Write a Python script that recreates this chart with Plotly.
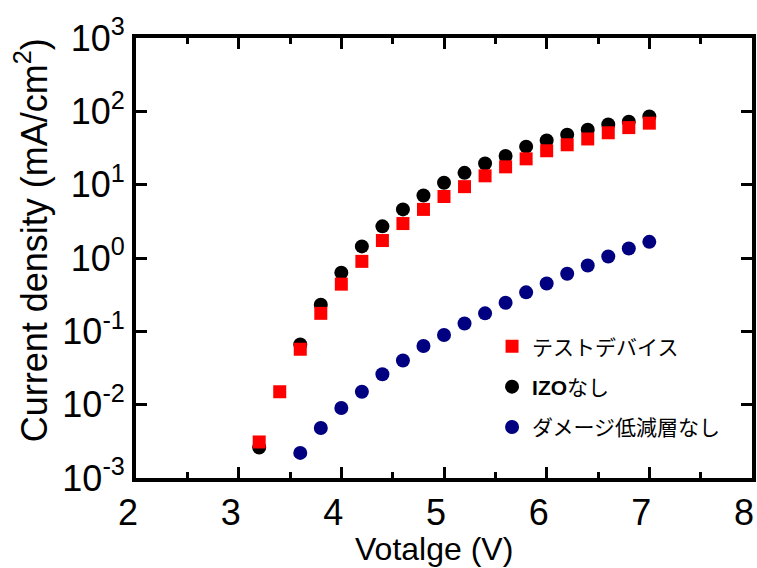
import plotly.graph_objects as go

# Applied voltage (V) for each measured point
volt_test = [3.2, 3.4, 3.6, 3.8, 4.0, 4.2, 4.4, 4.6, 4.8, 5.0, 5.2, 5.4,
             5.6, 5.8, 6.0, 6.2, 6.4, 6.6, 6.8, 7.0]
volt_izo = [3.2, 3.6, 3.8, 4.0, 4.2, 4.4, 4.6, 4.8, 5.0, 5.2, 5.4,
            5.6, 5.8, 6.0, 6.2, 6.4, 6.6, 6.8, 7.0]
volt_nodmg = [3.6, 3.8, 4.0, 4.2, 4.4, 4.6, 4.8, 5.0, 5.2, 5.4,
              5.6, 5.8, 6.0, 6.2, 6.4, 6.6, 6.8, 7.0]

# Current density (mA/cm^2)
j_test = [0.0031, 0.015, 0.057, 0.176, 0.44, 0.9, 1.73, 2.95, 4.6, 6.9,
          9.4, 13.2, 17.5, 22.5, 29, 35, 42, 51, 60, 69]
j_izo = [0.0026, 0.066, 0.23, 0.63, 1.44, 2.7, 4.6, 7.1, 10.6, 14.5,
         19.4, 24.6, 33, 40, 48, 56, 66, 72, 85]
j_nodmg = [0.0022, 0.0048, 0.009, 0.015, 0.026, 0.040, 0.063, 0.089,
           0.128, 0.176, 0.245, 0.34, 0.45, 0.61, 0.79, 1.05, 1.35, 1.66]

names = ["テストデバイス", "<b>IZO</b>なし", "ダメージ低減層なし"]

x_ticks = [2, 3, 4, 5, 6, 7, 8]
y_ticks = [1e-3, 1e-2, 1e-1, 1e0, 1e1, 1e2, 1e3]
y_ticktext = ["10<sup>-3</sup>", "10<sup>-2</sup>", "10<sup>-1</sup>",
              "10<sup>0</sup>", "10<sup>1</sup>", "10<sup>2</sup>",
              "10<sup>3</sup>"]

x_title = "Votalge (V)"
y_title = "Current density (mA/cm<sup>2</sup>)"

FONT = "Liberation Sans, Arial, Noto Sans CJK JP, sans-serif"

fig = go.Figure()
# black circles first so the red squares sit on top of them
fig.add_trace(go.Scatter(
    x=volt_izo, y=j_izo, mode="markers", name=names[1],
    legendrank=2, legendgroup="b",
    marker=dict(symbol="circle", size=14, color="#000000"),
))
fig.add_trace(go.Scatter(
    x=volt_test, y=j_test, mode="markers", name=names[0],
    legendrank=1, legendgroup="a",
    marker=dict(symbol="square", size=13, color="#ff0000"),
))
fig.add_trace(go.Scatter(
    x=volt_nodmg, y=j_nodmg, mode="markers", name=names[2],
    legendrank=3, legendgroup="c",
    marker=dict(symbol="circle", size=14, color="#000080"),
))

axis_common = dict(
    showline=True, linecolor="black", linewidth=4, mirror="ticks",
    ticks="inside", tickcolor="black", tickwidth=3, ticklen=11,
    showgrid=False, zeroline=False,
    tickfont=dict(family=FONT, size=36, color="black"),
)

fig.update_xaxes(
    **axis_common,
    range=[2, 8], tickvals=x_ticks, ticklabelshift=-8,
    minor=dict(ticks="inside", dtick=0.5, ticklen=6, tickwidth=3,
               tickcolor="black", showgrid=False),
)
fig.update_yaxes(
    **axis_common,
    type="log", range=[-3, 3], tickvals=y_ticks, ticktext=y_ticktext,
    ticklabelstandoff=0,
)

# axis titles, placed as free text
fig.add_annotation(
    text=x_title, xref="paper", yref="paper", x=0.484, y=-0.161,
    xanchor="center", yanchor="middle", showarrow=False,
    font=dict(family=FONT, size=32, color="black"),
)
fig.add_annotation(
    text=y_title, xref="paper", yref="paper", x=-0.169, y=0.540,
    xanchor="center", yanchor="middle", textangle=-90, showarrow=False,
    font=dict(family=FONT, size=36, color="black"),
)

fig.update_layout(
    width=757, height=568,
    margin=dict(l=136, r=5, t=38, b=90, autoexpand=False),
    paper_bgcolor="white", plot_bgcolor="white",
    showlegend=True,
    legend=dict(
        x=0.578, y=0.345, xanchor="left", yanchor="top",
        bgcolor="rgba(0,0,0,0)", borderwidth=0,
        traceorder="grouped", tracegroupgap=10,
        font=dict(family=FONT, size=21, color="black"),
    ),
)

fig.write_html("out.html")
